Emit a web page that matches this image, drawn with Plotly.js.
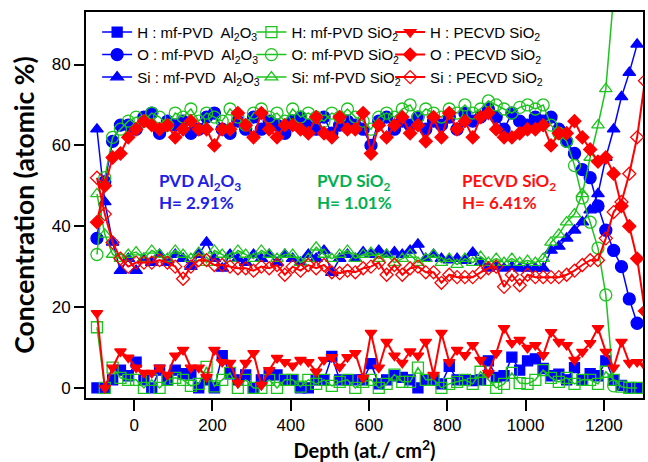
<!DOCTYPE html>
<html>
<head>
<meta charset="utf-8">
<script src="https://cdn.plot.ly/plotly-3.0.1.min.js"></script>
<style>html,body{margin:0;padding:0;background:#fff;}#chart{width:648px;height:462px;}</style>
</head>
<body>
<div id="chart"></div>
<script>
// Depth positions (at./cm2)
const depth = [-95,-75,-55,-35,-15,5,25,45,65,85,105,125,145,165,185,205,225,245,265,285,305,325,345,365,385,405,425,445,465,485,505,525,545,565,585,605,625,645,665,685,705,725,745,765,785,805,825,845,865,885,905,925,945,965,985,1005,1025,1045,1065,1085,1105,1125,1145,1165,1185,1205,1225,1245,1265,1285,1305];

// mf-PVD Al2O3
const alH  = [0,0,2,4.4,3,6.4,2,0,4.4,2,4.4,3.5,3.5,0,2,0,8,3.5,2,3.2,0,2,3.2,3.2,2,2,0,0,2,2,7.8,2,2,2,2,6,1,2,3,2.6,2,0,2,2,1,5.3,2,2,1.8,2,6.7,2.6,3,7.6,4.4,6.7,7.2,4.8,3,3.4,2,5,2,3.5,3,6.7,2,0.6,0,0];
const alO  = [37,51,61,65,65,64,67,68,63,66,65,66,63,64,67,68,64,63,66,64,67,64,66,65,63,66,67,65,64,67,63,65,66,65,64,60,66,67,64,66,65,67,64,66,65,67,64,68,66,67,69,67,64,68,66,65,67,66,67,64,61,58,54,52,45,39,34,30,22,16];
const alSi = [64,46,36,29,32,29,32,31,33,31,33,32,30,33,36,32,29.6,33,32,31,33,32,33,31,33,32,31,33,32,34,28.5,32,33,32,33.6,33,34,33,33.6,33,34,35.5,32,33,32,31.6,32,31.5,33.5,31,29.6,30,29.6,30,29.6,29.6,29.6,29.6,34,35,37,39,41,44,48,57,64,72,78,85];

// mf-PVD SiO2
const siH  = [15,0,5,2.5,2,2,0,2,0,2,2.5,2,0.5,1,5.2,0.4,2,3.7,0,2,0,0,2,0,2,2,0.3,2,1,2,0.5,1.5,2,0,1.5,2,0,1,3.3,1.5,1.5,5,2,2,0,1,1.5,2,1,4,2,0,1,3.7,1.2,1,2,4.4,2.5,1.5,2.5,1,2,2,1,4,2,0.3,0,0];
const siO  = [33,52,62,64,66,67,66,68,67,65,68,67,69,66,68,67,66,69,67,65,68,69,67,68,66,69,67,68,67,66,68,67,69,67,66,64,67,68,67,69,70,67,69,68,67,69,68,70,68,69,71,70,69,68,69.4,70,69,70,65,63,61,55,47,41,34.6,23,0.5];
const siSi = [48,38,33,32,33,33.6,32,34,33,32,34,33,32,33.5,31,34,33,32,34,33,32,34,33,32,33,33,31,32,34.8,33,32,33,34,32,33,33.5,32,33,31,32,33,31,32,33,31,32,30.5,32,31,32.5,31,32,31,32,31,31.5,31,32,36,38,41,43,48,57,65,74,97];

// PECVD SiO2
const peH  = [18.5,0,5,9,7.5,5,3.7,3.7,5,3.2,8,9.4,5,5,2.7,9.4,6.4,6.2,1.2,6.2,8.6,0.7,4.4,7.4,6.4,5.5,6.9,6.4,4,6.9,7.6,5.2,7.6,8.6,2.5,13.6,5,11.4,8,6.2,9,8,11.4,3.2,13.6,6.4,9.4,8.1,10.6,6.9,3.7,8.6,14.8,11.1,11.9,9.9,10.6,8.1,13.8,11.4,10.6,6.9,8.9,11.1,14.8,8.9,5,11.4,6.2,6.4,5.5];
const peO  = [41,50,57,58,62,64,66,65,64,65,62,64,66,64,64,60,64,64,68,65,62,68,64,62,65,65,64,63,67,63,62,67,64,64,68,58,65,62,65,67,63,65,61,67,62,68,64,66,62,67,68,64,62,62,63,64,64,65,60,63,63,66,62,59,56,57,53,45,40,32,19];
const peSi = [52,43,36,32,30,31,31,31,31.6,31,30,27,30,31.6,31.6,30.4,30.4,30,29.6,29.6,29,30,29.6,30.4,28,30,29,30.4,29.6,30.4,28.6,28.4,29,28.6,29.6,30,31,28,30.4,28,29.6,30,28.6,28.6,26,28,27.4,27.4,27.4,28.6,29.6,30,25,28,25.4,28,27.4,27.4,27.4,27.4,28,29,30.4,31.6,31.6,37,43.5,46,53,62,76];

const xTicks = [0,200,400,600,800,1000,1200];
const yTicks = [0,20,40,60,80];

const BLUE = '#0000FF', GREEN = '#1DC41D', RED = '#FF0000';

function tr(y, name, color, symbol, size, legend, lw) {
  return {
    x: depth, y: y, name: name, type: 'scatter', mode: 'lines+markers',
    line: {color: color, width: lw},
    marker: {symbol: symbol, size: size, color: color, line: {color: color, width: 1.3}},
    legend: legend
  };
}

const data = [
  tr(alH,  'H : mf-PVD  Al<sub>2</sub>O<sub>3</sub>', BLUE, 'square', 10, 'legend', 1.5),
  tr(alO,  'O : mf-PVD  Al<sub>2</sub>O<sub>3</sub>', BLUE, 'circle', 12, 'legend', 1.5),
  tr(alSi, 'Si : mf-PVD  Al<sub>2</sub>O<sub>3</sub>', BLUE, 'triangle-up', 11, 'legend', 1.5),
  tr(siH,  'H: mf-PVD SiO<sub>2</sub>', GREEN, 'square-open', 11, 'legend2', 1.5),
  tr(siO,  'O: mf-PVD SiO<sub>2</sub>', GREEN, 'circle-open', 12, 'legend2', 1.5),
  tr(siSi, 'Si: mf-PVD SiO<sub>2</sub>', GREEN, 'triangle-up-open', 11, 'legend2', 1.5),
  tr(peH,  'H : PECVD SiO<sub>2</sub>', RED, 'triangle-down', 10, 'legend3', 2),
  tr(peO,  'O : PECVD SiO<sub>2</sub>', RED, 'diamond', 10, 'legend3', 2),
  tr(peSi, 'Si : PECVD SiO<sub>2</sub>', RED, 'diamond-open', 10, 'legend3', 2)
];

const legendBase = {
  bgcolor: 'rgba(0,0,0,0)', borderwidth: 0, xanchor: 'left', yanchor: 'top',
  font: {family: 'Liberation Sans, Arial, sans-serif', size: 15, color: '#000'},
  tracegroupgap: 0, itemwidth: 30
};

const layout = {
  width: 648, height: 462,
  margin: {l: 86, r: 5, t: 12, b: 64},
  paper_bgcolor: '#fff', plot_bgcolor: '#fff',
  showlegend: true,
  legend:  Object.assign({}, legendBase, {x: 0.02, y: 0.99}),
  legend2: Object.assign({}, legendBase, {x: 0.297, y: 0.99}),
  legend3: Object.assign({}, legendBase, {x: 0.546, y: 0.99}),
  xaxis: {
    range: [-123, 1300], tickvals: xTicks, ticktext: xTicks.map(String),
    ticks: 'outside', ticklen: 11, tickwidth: 2, tickcolor: '#000',
    showline: true, linewidth: 2, linecolor: '#000', mirror: true,
    showgrid: false, zeroline: false,
    tickfont: {family: 'Liberation Sans, Arial, sans-serif', size: 17, color: '#000'},
    title: {text: 'Depth (at./ cm<sup>2</sup>)', font: {family: 'Lato, sans-serif', size: 20, color: '#000', weight: 'bold'}, standoff: 12}
  },
  yaxis: {
    range: [-2.5, 93], tickvals: yTicks, ticktext: yTicks.map(String),
    ticks: 'outside', ticklen: 10, tickwidth: 2, tickcolor: '#000',
    showline: true, linewidth: 2, linecolor: '#000', mirror: true,
    showgrid: false, zeroline: false,
    tickfont: {family: 'Liberation Sans, Arial, sans-serif', size: 17, color: '#000'},
    title: {text: 'Concentration (atomic %)', font: {family: 'Lato, sans-serif', size: 26.5, color: '#000', weight: 'bold'}, standoff: 9}
  },
  annotations: [
    {x: 58, y: 48.5, xref: 'x', yref: 'y', xanchor: 'left', yanchor: 'middle', align: 'left', showarrow: false,
     text: 'PVD Al<sub>2</sub>O<sub>3</sub><br>H= 2.91%', font: {family: 'Lato, sans-serif', size: 17, color: '#2020E6', weight: 'bold'}},
    {x: 462, y: 48.5, xref: 'x', yref: 'y', xanchor: 'left', yanchor: 'middle', align: 'left', showarrow: false,
     text: 'PVD SiO<sub>2</sub><br>H= 1.01%', font: {family: 'Lato, sans-serif', size: 17, color: '#00B050', weight: 'bold'}},
    {x: 833, y: 48.5, xref: 'x', yref: 'y', xanchor: 'left', yanchor: 'middle', align: 'left', showarrow: false,
     text: 'PECVD SiO<sub>2</sub><br>H= 6.41%', font: {family: 'Lato, sans-serif', size: 17, color: '#FF1010', weight: 'bold'}}
  ]
};

Plotly.newPlot('chart', data, layout, {displayModeBar: false, staticPlot: true});
</script>
</body>
</html>
